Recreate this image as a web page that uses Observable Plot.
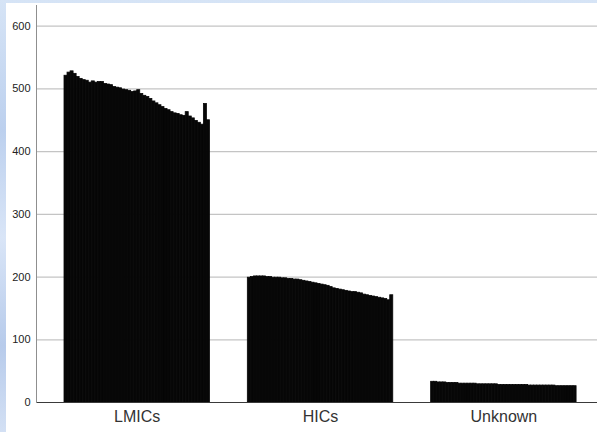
<!DOCTYPE html>
<html>
<head>
<meta charset="utf-8">
<script src="https://cdn.jsdelivr.net/npm/d3@7"></script>
<script src="https://cdn.jsdelivr.net/npm/@observablehq/plot@0.6"></script>
<style>
  html, body { margin: 0; padding: 0; width: 597px; height: 432px; overflow: hidden; }
  body { background: linear-gradient(to bottom, #d6e4f6 0%, #bcd0ee 30%, #d9e5f7 55%, #b7cbeb 80%, #d3e0f4 100%); }
  #chart { position: absolute; left: 6px; top: 3px; background: #fff; }
  #chart svg { display: block; background: #fff; }
</style>
</head>
<body>
<div id="chart"></div>
<script>
const groups = ["LMICs", "HICs", "Unknown"];
const lmics = [521,526,528,524,519,516,514,513,510,512,510,511,511,508,507,506,503,502,501,499,498,497,495,496,498,492,489,487,484,480,477,474,471,468,466,463,461,460,458,457,463,456,453,449,446,443,476,450];
const hics = [199,200,201,201,201,201,200,200,199,199,199,198,198,197,197,196,196,195,194,193,192,191,190,189,188,187,186,184,182,181,180,179,178,177,176,176,175,174,172,171,170,169,168,167,166,165,163,171];
const unknown = [33,33,32,32,32,31,31,31,31,30,30,30,30,30,30,29,29,29,29,29,29,29,28,28,28,28,28,28,28,28,28,28,27,27,27,27,27,27,27,27,27,26,26,26,26,26,26,26];
const yTicks = [0, 100, 200, 300, 400, 500, 600];

const series = [lmics, hics, unknown];
const step = 60.5; // group spacing in bar units
const rows = groups.flatMap((g, gi) => series[gi].map((v, i) => ({
  group: g, x1: gi * step + i, x2: gi * step + i + 1, value: v
})));
const centers = groups.map((g, gi) => gi * step + series[gi].length / 2);
const labelOf = new Map(centers.map((c, gi) => [c, groups[gi]]));

const chart = Plot.plot({
  width: 591,
  height: 429,
  marginLeft: 30,
  marginRight: 0,
  marginTop: 2,
  marginBottom: 30,
  style: { fontFamily: "Liberation Sans, Arial, sans-serif", background: "#fff" },
  x: { domain: [-9.24, 175.9] },
  y: { domain: [0, 633] },
  marks: [
    Plot.ruleY(yTicks.filter(d => d > 0), { stroke: "#c4c4c4", strokeWidth: 1.3 }),
    Plot.rectY(rows, { x1: "x1", x2: "x2", y: "value", fill: "#070707", stroke: "#070707", strokeWidth: 0.8, inset: 0 }),
    Plot.ruleY([0], { stroke: "#3a3a3a" }),
    Plot.frame({ anchor: "left", stroke: "#8f8f8f" }),
    Plot.axisY({ ticks: yTicks, tickSize: 0, tickPadding: 6, fontSize: 11, fill: "#222", label: null }),
    Plot.axisX({ ticks: centers, tickFormat: d => labelOf.get(d), tickSize: 0, tickPadding: 8, fontSize: 16, fill: "#333", label: null })
  ]
});
document.getElementById("chart").appendChild(chart);
</script>
</body>
</html>
